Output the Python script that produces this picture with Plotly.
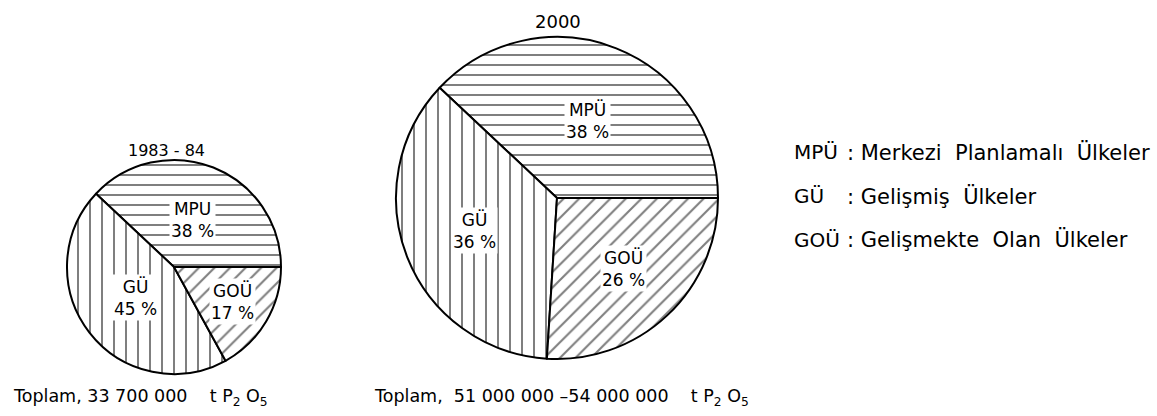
import math
import plotly.graph_objects as go

# ---------------- data ----------------
categories = ["MPÜ", "GÜ", "GOÜ"]
labels_1983 = ["MPU", "GÜ", "GOÜ"]
labels_2000 = ["MPÜ", "GÜ", "GOÜ"]
values_1983 = [38, 45, 17]
values_2000 = [38, 36, 26]
title_1983 = "1983 - 84"
title_2000 = "2000"
NB = "\u00a0"
total_1983 = f"Toplam, 33 700 000{NB*3} t P<sub>2</sub> O<sub>5</sub>"
total_2000 = f"Toplam,{NB}{NB}51 000 000 –54 000 000{NB*3} t P<sub>2</sub> O<sub>5</sub>"
legend_abbr = ["MPÜ", "GÜ", "GOÜ"]
legend_desc = [f":{NB}Merkezi{NB}{NB}Planlamalı{NB}{NB}Ülkeler",
               f":{NB}Gelişmiş{NB}{NB}Ülkeler",
               f":{NB}Gelişmekte{NB}{NB}Olan{NB}{NB}Ülkeler"]

# ---------------- layout constants ----------------
W, H = 1157, 416
FONT = "DejaVu Sans"
shapes_pattern = ["-", "|", "/"]
pattern_sizes = [10, 12, 11]
pattern_solidity = [0.2, 0.17, 0.19]

dom_1983 = dict(x=[67 / W, 281 / W], y=[1 - 374 / H, 1 - 160 / H])
dom_2000 = dict(x=[396 / W, 718 / W], y=[1 - 359 / H, 1 - 37 / H])
label_r_1983 = [0.47, 0.46, 0.63]
label_r_2000 = [0.52, 0.55, 0.60]


def pie(values, dom):
    # plotly's counterclockwise pies place the first slice clockwise of `rotation`,
    # so offset the rotation by the first slice so it starts at 3 o'clock
    rot = 90 - 360 * values[0] / sum(values)
    return go.Pie(
        values=values,
        labels=categories,
        domain=dom,
        sort=False,
        direction="counterclockwise",
        rotation=rot,
        textinfo="none",
        hoverinfo="label+percent",
        showlegend=False,
        marker=dict(
            colors=["white"] * 3,
            line=dict(color="black", width=2),
            pattern=dict(
                shape=shapes_pattern,
                fgcolor="black",
                bgcolor="white",
                size=pattern_sizes,
                solidity=pattern_solidity,
                fillmode="overlay",
            ),
        ),
    )


fig = go.Figure([pie(values_1983, dom_1983), pie(values_2000, dom_2000)])

annotations = []


def slice_labels(values, labels, dom, rfracs):
    cx = (dom["x"][0] + dom["x"][1]) / 2 * W
    cy = (1 - (dom["y"][0] + dom["y"][1]) / 2) * H
    r = min((dom["x"][1] - dom["x"][0]) * W, (dom["y"][1] - dom["y"][0]) * H) / 2
    total = sum(values)
    start = 0.0
    for v, lab, f in zip(values, labels, rfracs):
        span = v / total * 360
        mid = math.radians(start + span / 2)
        start += span
        px = cx + f * r * math.cos(mid)
        py = cy - f * r * math.sin(mid)
        annotations.append(dict(
            x=px / W, y=1 - py / H, xref="paper", yref="paper",
            xanchor="center", yanchor="middle",
            text=f"{lab}<br>{v} %", showarrow=False,
            font=dict(family=FONT, size=17, color="black"),
            bgcolor="white", borderpad=1,
        ))


slice_labels(values_1983, labels_1983, dom_1983, label_r_1983)
slice_labels(values_2000, labels_2000, dom_2000, label_r_2000)


def txt(text, px, py, size, anchor="center"):
    annotations.append(dict(
        x=px / W, y=1 - py / H, xref="paper", yref="paper", text=text,
        showarrow=False, xanchor=anchor, yanchor="middle",
        font=dict(family=FONT, size=size, color="black"),
    ))


txt(title_1983, 166, 150, 16)
txt(title_2000, 558, 21, 18)
txt(total_1983, 11, 397, 17.5, "left")
txt(total_2000, 372, 397, 17.5, "left")
for i, (a, d) in enumerate(zip(legend_abbr, legend_desc)):
    y = 152 + i * 44
    txt(a, 792, y, 20, "left")
    txt(d, 845, y, 21, "left")

fig.update_layout(
    width=W, height=H,
    margin=dict(l=0, r=0, t=0, b=0),
    paper_bgcolor="white", plot_bgcolor="white",
    annotations=annotations,
    font=dict(family=FONT, size=16, color="black"),
)

fig.write_html("out.html", config={"displayModeBar": False},
               post_script="document.body.style.margin='0px';")
